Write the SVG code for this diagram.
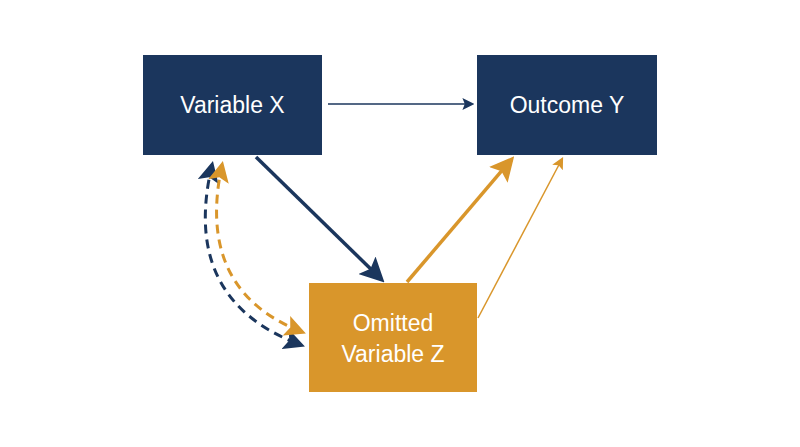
<svg xmlns="http://www.w3.org/2000/svg" width="800" height="447" viewBox="0 0 800 447">
<style>
.n{fill:#1b365d}.g{fill:#d9962b}
text{font-family:"Liberation Sans",Arial,sans-serif;font-size:23px;fill:#fff;text-anchor:middle}
.c path{fill:none}
</style>
<defs>
<marker id="an" viewBox="0 0 10 10" refX="8" refY="5" markerWidth="6" markerHeight="6" markerUnits="userSpaceOnUse" orient="auto-start-reverse"><path d="M0,0L10,5L0,10L2,5z" fill="#1b365d"/></marker>
<marker id="anb" viewBox="0 0 10 10" refX="8" refY="5" markerWidth="7" markerHeight="7" orient="auto-start-reverse"><path d="M0,0L10,5L0,10L2,5z" fill="#1b365d"/></marker>
<marker id="ag" viewBox="0 0 10 10" refX="8" refY="5" markerWidth="7" markerHeight="7" orient="auto-start-reverse"><path d="M0,0L10,5L0,10L2,5z" fill="#d9962b"/></marker>
<marker id="agt" viewBox="0 0 10 10" refX="8" refY="5" markerWidth="12" markerHeight="12" markerUnits="userSpaceOnUse" orient="auto"><path d="M0,0L10,5L0,10L2,5z" fill="#d9962b"/></marker>
<marker id="ant" viewBox="0 0 10 10" refX="8" refY="5" markerWidth="12" markerHeight="12" markerUnits="userSpaceOnUse" orient="auto"><path d="M0,0L10,5L0,10L2,5z" fill="#1b365d"/></marker>
</defs>
<rect width="800" height="447" fill="#fff"/>
<g class="c">
<path d="M328,104L472,104" stroke="#1b365d" stroke-width="1.5" marker-end="url(#ant)"/>
<path d="M256,157L381,279" stroke="#1b365d" stroke-width="3.5" marker-end="url(#anb)"/>
<path d="M407,282L511,160" stroke="#d9962b" stroke-width="3.5" marker-end="url(#ag)"/>
<path d="M478,318L562,159" stroke="#d9962b" stroke-width="1.5" marker-end="url(#agt)"/>
<path d="M212,165Q180,300 301,345" stroke="#1b365d" stroke-width="3" stroke-dasharray="9,6" marker-start="url(#anb)" marker-end="url(#anb)"/>
<path d="M222,165Q195,290 302,332" stroke="#d9962b" stroke-width="3" stroke-dasharray="9,6" marker-start="url(#ag)" marker-end="url(#ag)"/>
</g>
<g id="x"><rect class="n" x="143" y="55" width="179" height="100"/><text x="232.5" y="113">Variable X</text></g>
<g id="y"><rect class="n" x="477" y="55" width="180" height="100"/><text x="567" y="113">Outcome Y</text></g>
<g id="z"><rect class="g" x="309" y="283" width="168" height="109"/><text x="393" y="331">Omitted</text><text x="393" y="362">Variable Z</text></g>
</svg>
